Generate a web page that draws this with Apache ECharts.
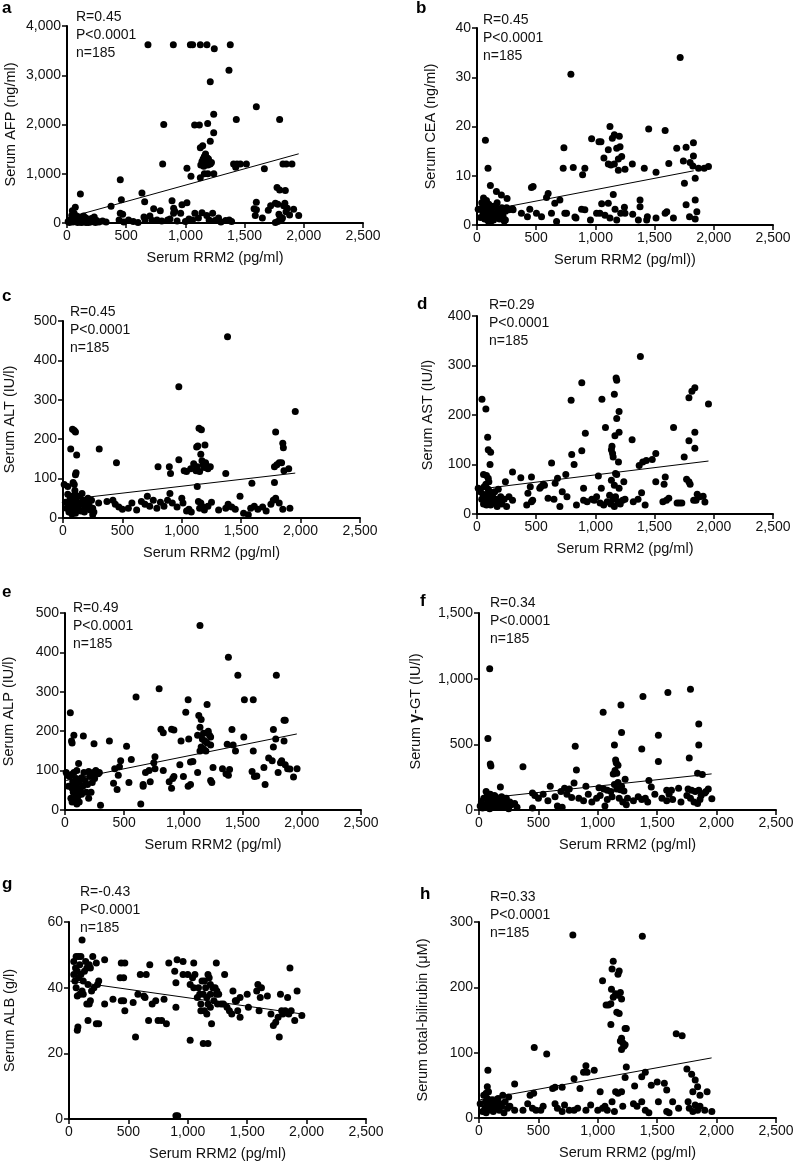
<!DOCTYPE html>
<html><head><meta charset="utf-8">
<script src="https://cdn.jsdelivr.net/npm/echarts@6/dist/echarts.min.js"></script>
<style>html,body{margin:0;padding:0;background:#fff}#main{width:797px;height:1173px}</style>
</head><body><div id="main"></div>
<script>
// ---------- DATA ----------
const xTickValues = [0, 500, 1000, 1500, 2000, 2500];
const xAxisTitles = ["Serum RRM2 (pg/ml)", "Serum RRM2 (pg/ml))", "Serum RRM2 (pg/ml)", "Serum RRM2 (pg/ml)", "Serum RRM2 (pg/ml)", "Serum RRM2 (pg/ml)", "Serum RRM2 (pg/ml)", "Serum RRM2 (pg/ml)"];
const yAxisTitles = ["Serum AFP (ng/ml)", "Serum CEA (ng/ml)", "Serum ALT (IU/l)", "Serum AST (IU/l)", "Serum ALP (IU/l)", "Serum γ-GT (IU/l)", "Serum ALB (g/l)", "Serum total-bilirubin (μM)"];
const panelLetters = ["a", "b", "c", "d", "e", "f", "g", "h"];
const rValues = ["R=0.45", "R=0.45", "R=0.45", "R=0.29", "R=0.49", "R=0.34", "R=-0.43", "R=0.33"];
const pValues = ["P<0.0001", "P<0.0001", "P<0.0001", "P<0.0001", "P<0.0001", "P<0.0001", "P<0.0001", "P<0.0001"];
const nValues = ["n=185", "n=185", "n=185", "n=185", "n=185", "n=185", "n=185", "n=185"];
const yMaxValues = [4000, 40, 500, 400, 500, 1500, 60, 300];
const yIntervals = [1000, 10, 100, 100, 100, 500, 20, 100];

const afpPoints = [[684,3620],[898,3620],[1042,3620],[1061,3620],[1126,3620],[1182,3620],[1379,3620],[1244,3540],[1368,3100],[1210,2870],[1239,2210],[1599,2360],[1430,2100],[1796,2100],[817,2000],[1078,1990],[1118,1990],[1188,2020],[1210,1660],[1239,1830],[1126,1530],[1146,1570],[808,1200],[1013,1110],[1047,950],[1126,920],[1130,1180],[1140,1250],[1150,1300],[1160,1350],[1170,1400],[1175,1280],[1180,1220],[1190,1180],[1200,1250],[1210,1200],[1145,1200],[1155,1150],[1165,1180],[1185,1320],[1195,1300],[1220,1230],[1160,1260],[1407,1200],[1436,1200],[1464,1200],[1515,1200],[1425,1130],[1667,1100],[1824,1200],[1852,1200],[1900,1200],[1160,1000],[1190,1000],[1240,1000],[450,880],[1774,720],[1796,670],[1844,660],[1599,420],[113,590],[633,610],[656,430],[459,470],[372,340],[887,450],[901,300],[971,370],[1013,410],[732,290],[788,250],[1580,290],[1600,270],[1590,150],[1650,100],[1700,260],[1720,350],[1760,400],[1780,380],[1790,180],[1800,120],[1810,60],[1820,100],[1830,350],[1840,400],[1850,230],[1860,300],[1880,160],[1914,280],[1957,150],[1780,30],[1760,10],[440,60],[450,200],[470,180],[480,20],[520,60],[560,30],[600,10],[650,120],[660,60],[700,140],[720,50],[760,60],[800,40],[850,60],[870,80],[900,200],[910,240],[930,40],[960,200],[1000,30],[1030,80],[1060,60],[1080,200],[1110,100],[1140,210],[1180,150],[1200,60],[1230,200],[1250,50],[1280,100],[1300,20],[1340,50],[1370,60],[1390,30],[10,30],[20,10],[30,60],[40,150],[45,250],[50,20],[55,80],[60,200],[70,320],[75,100],[80,50],[90,10],[100,120],[110,40],[120,80],[130,20],[140,140],[150,60],[160,100],[170,30],[180,10],[190,60],[200,20],[210,90],[220,40],[230,120],[240,10],[250,50],[270,20],[300,40],[330,20],[60,40],[80,140],[100,60],[120,10],[140,30],[160,10],[200,80],[230,60]];
const ceaPoints = [[71,17.2],[93,11.5],[113,8.0],[164,6.8],[206,6.1],[254,5.4],[460,7.6],[474,7.8],[587,5.6],[601,6.4],[657,4.4],[700,5.1],[742,2.4],[734,15.7],[728,11.5],[793,30.6],[813,11.7],[827,1.6],[892,10.2],[911,11.5],[883,3.2],[968,17.5],[1030,16.9],[1047,16.9],[1123,20.0],[1072,13.6],[1109,15.3],[1143,17.6],[1160,18.3],[1202,18.0],[1109,12.4],[1131,12.2],[1160,12.4],[1180,15.6],[1208,15.9],[1194,13.4],[1222,13.9],[1194,11.1],[1250,11.3],[1312,12.4],[1151,6.2],[1413,11.5],[1512,10.7],[1450,19.5],[1589,19.2],[1620,12.5],[1687,15.6],[1766,15.8],[1828,16.7],[1752,8.5],[1743,13.0],[1800,12.7],[1828,14.0],[1823,12.0],[1871,11.5],[1919,11.5],[1955,11.9],[1843,9.5],[1716,34.0],[1766,4.1],[1843,5.1],[1857,2.7],[1795,1.7],[1843,1.2],[1377,5.1],[1377,3.7],[1439,1.7],[1512,1.4],[1589,2.4],[1603,2.7],[1659,1.4],[1433,1.0],[1363,1.0],[1315,2.2],[1053,4.3],[1109,4.4],[1038,2.4],[1081,2.0],[1123,1.4],[1180,1.0],[1214,2.4],[1245,3.6],[1250,2.4],[1166,3.2],[1010,2.4],[958,1.0],[911,3.1],[836,1.4],[756,2.4],[672,0.7],[629,2.4],[545,1.7],[502,2.4],[446,3.2],[426,1.7],[375,2.4],[305,3.1],[10,3.2],[30,1.5],[40,4.5],[50,2.5],[55,5.5],[60,3.0],[65,1.2],[70,4.0],[75,2.2],[80,5.0],[85,3.5],[90,1.0],[95,2.8],[100,4.2],[105,1.8],[110,3.3],[120,0.8],[130,2.5],[140,3.8],[150,1.5],[160,2.2],[170,4.5],[180,3.0],[190,1.2],[200,2.5],[210,3.5],[220,1.8],[230,0.8],[240,2.8],[250,3.5],[60,2.0],[80,1.5],[100,0.6],[120,3.0],[140,1.0],[160,3.6],[200,1.4],[240,1.0],[50,3.8],[90,2.0],[270,3.1],[300,3.3]];
const altPoints = [[1385,460],[975,333],[1955,270],[80,225],[95,222],[105,218],[1145,228],[1165,224],[1790,218],[65,175],[305,175],[115,160],[110,115],[105,110],[450,140],[1125,180],[1135,183],[1195,185],[1850,190],[1855,178],[800,130],[895,130],[905,113],[975,148],[1020,120],[1040,118],[1075,125],[1100,138],[1120,120],[1130,130],[1150,118],[1160,162],[1170,145],[1180,135],[1190,128],[1200,140],[1210,132],[1220,125],[1240,130],[1370,113],[1780,130],[1800,135],[1820,140],[1840,140],[1860,120],[1900,125],[1130,80],[1590,88],[1780,90],[10,85],[40,80],[85,90],[95,85],[100,70],[20,40],[30,25],[40,60],[50,15],[55,35],[60,50],[65,20],[70,40],[75,10],[80,55],[85,30],[90,45],[95,20],[100,35],[105,12],[110,50],[115,28],[120,40],[130,22],[140,35],[150,18],[160,62],[170,45],[180,30],[190,25],[200,40],[210,50],[220,32],[230,20],[240,45],[250,8],[260,15],[250,25],[60,30],[80,15],[100,60],[140,55],[180,15],[220,42],[300,38],[370,42],[420,45],[440,35],[470,28],[500,22],[550,25],[580,38],[620,20],[660,42],[690,35],[710,55],[730,30],[760,45],[790,25],[820,40],[850,30],[880,45],[900,62],[920,38],[960,28],[1000,50],[1010,38],[1040,18],[1060,22],[1080,15],[1140,42],[1150,25],[1160,38],[1170,30],[1190,20],[1220,30],[1250,40],[1310,20],[1370,25],[1390,35],[1420,28],[1450,22],[1490,55],[1520,12],[1560,8],[1580,25],[1610,30],[1640,22],[1680,28],[1710,18],[1750,35],[1770,45],[1790,50],[1820,38],[1850,22],[1910,25]];
const astPoints = [[1380,318],[885,265],[1175,275],[1180,270],[1840,255],[1815,248],[1790,235],[1955,222],[42,232],[75,212],[795,230],[1055,232],[1160,242],[1200,207],[1180,193],[1085,175],[1660,175],[1840,165],[915,163],[1165,158],[1200,165],[1310,150],[1790,148],[90,155],[95,130],[115,125],[110,100],[1140,137],[1135,130],[1145,122],[1150,115],[885,128],[1840,133],[1750,115],[800,120],[820,100],[630,103],[1195,105],[1400,105],[1430,108],[1480,110],[1510,122],[1370,98],[1025,77],[1170,82],[1180,80],[750,80],[300,85],[370,73],[460,75],[540,55],[570,58],[660,62],[680,72],[1240,65],[1510,65],[1590,75],[1580,60],[1770,70],[1790,65],[1800,60],[55,80],[80,78],[95,72],[100,65],[1135,68],[1160,58],[1200,52],[1390,43],[1050,52],[900,52],[10,52],[30,45],[40,30],[50,40],[55,20],[60,55],[65,35],[70,25],[75,60],[80,18],[85,40],[90,30],[95,50],[100,22],[105,35],[110,45],[115,18],[120,28],[130,38],[140,22],[150,45],[160,30],[170,15],[180,50],[190,25],[200,35],[210,20],[230,30],[240,65],[250,15],[270,35],[300,28],[420,18],[430,42],[450,55],[460,25],[470,28],[530,52],[560,60],[600,32],[650,30],[700,15],[720,45],[760,35],[840,18],[900,28],[930,25],[970,30],[990,28],[1010,35],[1040,22],[1070,18],[1100,25],[1120,38],[1130,20],[1150,30],[1160,15],[1170,35],[1190,25],[1210,20],[1230,28],[1250,30],[1320,25],[1360,30],[1420,18],[1570,25],[1600,28],[1620,32],[1690,22],[1710,22],[1730,22],[1830,28],[1850,28],[1880,35],[1910,36],[1925,24],[1860,40]];
const alpPoints = [[1140,468],[1380,388],[1460,342],[1785,342],[795,308],[600,287],[1515,280],[1590,280],[1040,280],[1200,268],[1020,248],[1130,240],[45,247],[1150,230],[1850,228],[1860,228],[810,205],[830,196],[900,205],[920,203],[1410,204],[1760,204],[1140,210],[1170,195],[1210,200],[1220,190],[1230,185],[1510,185],[55,175],[60,170],[75,190],[155,188],[245,168],[375,175],[520,162],[1045,180],[1120,190],[1160,180],[1180,175],[1200,170],[1230,165],[1150,160],[1170,155],[1190,150],[1140,150],[1370,167],[1420,165],[1440,150],[1590,150],[1760,160],[1780,180],[1850,175],[980,175],[1080,123],[1060,122],[760,135],[750,120],[1330,105],[1360,92],[1380,88],[1390,103],[1580,98],[1600,85],[1620,86],[1680,108],[1690,65],[1720,132],[1750,125],[1800,95],[1820,120],[1830,125],[1860,115],[1880,105],[1900,104],[1930,84],[1960,105],[1250,108],[1240,70],[1230,75],[1060,65],[1040,60],[1000,85],[920,85],[910,80],[900,55],[880,72],[830,100],[760,105],[710,100],[680,95],[720,72],[660,60],[640,15],[660,65],[560,128],[540,70],[470,125],[460,110],[450,88],[440,52],[420,105],[410,68],[300,12],[290,95],[280,92],[260,100],[240,95],[1120,95],[970,115],[10,95],[20,88],[30,60],[40,85],[50,30],[55,90],[60,20],[65,72],[70,45],[75,95],[80,25],[85,65],[90,40],[95,80],[100,15],[105,55],[110,35],[115,118],[120,70],[130,50],[140,82],[150,60],[160,95],[170,75],[180,45],[190,65],[200,30],[210,85],[220,45],[230,70],[60,55],[80,50],[100,100],[120,20],[140,40],[200,98],[220,90],[250,80]];
const ggtPoints = [[90,1075],[1780,920],[1590,895],[1380,865],[1195,800],[1045,745],[1850,655],[1200,590],[1510,570],[75,545],[1140,495],[810,485],[1850,495],[1370,465],[1770,395],[1510,370],[95,350],[100,335],[370,330],[1150,380],[1155,360],[1170,340],[1145,300],[1160,280],[1130,275],[820,305],[1840,280],[1880,270],[1230,235],[1430,225],[800,205],[1170,210],[1140,195],[1200,180],[1450,175],[180,175],[600,180],[720,165],[760,160],[900,180],[1010,170],[1050,160],[1080,150],[1110,140],[1160,160],[1190,155],[1220,145],[1580,150],[1620,150],[1680,165],[1760,160],[1790,150],[1820,140],[1850,150],[1900,130],[1960,85],[1930,160],[450,130],[470,110],[500,90],[540,120],[580,70],[640,100],[660,30],[690,140],[700,20],[740,120],[780,95],[840,90],[880,70],[920,120],[950,60],[990,90],[1020,110],[1060,30],[1080,80],[1120,100],[1180,90],[1210,60],[1240,40],[1250,90],[1300,70],[1340,100],[1370,80],[1400,90],[1420,60],[1480,120],[1540,90],[1580,70],[1600,120],[1630,80],[1700,60],[1750,110],[1780,90],[1810,60],[1840,50],[1860,80],[1870,110],[1910,140],[10,30],[20,60],[30,15],[40,90],[50,40],[60,140],[65,20],[70,110],[75,60],[80,30],[85,80],[90,10],[95,120],[100,50],[110,90],[120,30],[130,70],[140,100],[150,40],[160,20],[170,80],[180,60],[190,100],[200,30],[210,60],[220,20],[230,90],[240,50],[250,10],[260,60],[270,40],[300,50],[320,20],[450,15],[100,20],[130,110],[210,90]];
const albPoints = [[900,1],[915,1],[110,54.5],[40,48],[60,49.5],[80,49.5],[100,49.5],[200,49.5],[300,48.5],[140,48],[180,46],[230,47.5],[440,47.5],[470,47.5],[680,47],[840,47.5],[890,45],[910,48.5],[960,48],[1050,47.5],[1240,47.5],[1860,46],[1000,44],[1040,43],[960,44],[1310,44],[600,44],[650,44],[430,43],[460,43],[1090,40],[1120,42],[1140,42],[1150,40],[1170,44],[1180,43],[1190,41],[1210,40],[1230,40],[1245,39],[1080,37],[1130,38],[1160,37],[1190,38],[1220,36],[1250,35],[1110,33],[1140,33],[1160,32],[1170,35],[1190,34],[1200,29],[1130,23],[1170,23],[1020,24],[560,25],[1770,25],[900,41.5],[900,34],[800,36.5],[780,30],[750,30],[820,29],[730,36],[700,35],[670,30],[630,37.5],[640,37],[580,38],[540,35.5],[460,36],[470,33],[440,36],[370,36.5],[300,35],[250,29],[230,29],[160,30],[150,35],[170,35],[180,36],[240,41],[250,42],[210,40],[190,39],[120,38],[110,39],[90,38],[70,37.5],[60,40],[50,42],[40,44],[55,46],[70,45],[80,43],[90,47],[100,44],[120,42],[130,45],[150,46],[160,41],[170,47],[70,27],[75,28],[1380,39],[1370,32],[1400,36],[1420,33],[1440,31],[1500,38],[1510,34],[1580,39],[1590,41],[1600,33],[1610,37],[1620,40],[1670,37.5],[1700,32],[1720,28.5],[1740,29.5],[1760,31],[1780,38],[1790,33],[1800,32],[1820,33],[1840,37],[1850,32],[1870,33],[1900,30],[1920,39],[1960,31.5],[1280,35],[1300,35],[1330,34],[1350,33],[1410,36],[1440,37],[1020,41],[1050,40],[1060,44],[1100,38],[1110,35],[1240,38],[1260,38]];
const tbilPoints = [[790,280],[1375,278],[1130,240],[1120,228],[1180,225],[1170,220],[1040,210],[1115,197],[1130,185],[1150,190],[1170,188],[1190,192],[1200,182],[1180,160],[1160,162],[1070,173],[1090,173],[1110,175],[1110,143],[1230,137],[1240,137],[1200,122],[1190,118],[1210,115],[1220,110],[1230,112],[1200,105],[1660,129],[1710,126],[465,108],[570,98],[1240,78],[1230,62],[1400,70],[1370,63],[1560,53],[1500,55],[1580,43],[1750,75],[1790,67],[1820,58],[1840,48],[1860,35],[1800,40],[1920,40],[900,80],[910,70],[970,73],[880,70],[800,60],[850,45],[700,47],[620,45],[640,47],[300,52],[460,38],[430,35],[75,73],[70,48],[60,38],[80,40],[1020,40],[1150,40],[1170,38],[1200,40],[1310,49],[1450,50],[10,22],[30,10],[40,35],[50,15],[55,25],[60,8],[65,20],[70,30],[80,12],[90,22],[100,18],[110,28],[120,10],[130,25],[140,15],[150,20],[160,30],[170,12],[180,22],[190,18],[200,35],[210,8],[220,25],[240,15],[250,32],[260,18],[300,12],[370,12],[410,22],[450,15],[480,12],[520,12],[540,18],[640,22],[660,15],[700,10],[720,20],[760,12],[800,12],[830,15],[900,12],[940,20],[1000,12],[1040,15],[1060,18],[1080,12],[1120,25],[1140,10],[1210,18],[1300,22],[1330,18],[1370,25],[1400,12],[1430,8],[1510,25],[1580,10],[1600,8],[1630,25],[1680,15],[1760,25],[1770,15],[1800,10],[1820,20],[1840,12],[1860,18],[1900,12],[1960,10]];

// regression line end points
const afpFit = [[10,110],[1957,1405]];
const ceaFit = [[10,2.6],[1830,11.0]];
const altFit = [[10,46],[1955,114]];
const astFit = [[10,50],[1955,107]];
const alpFit = [[10,75],[1958,193]];
const ggtFit = [[10,86],[1958,275]];
const albFit = [[10,42],[1960,32]];
const tbilFit = [[10,28],[1958,92]];

const pointSets = [afpPoints, ceaPoints, altPoints, astPoints, alpPoints, ggtPoints, albPoints, tbilPoints];
const fitSets = [afpFit, ceaFit, altFit, astFit, alpFit, ggtFit, albFit, tbilFit];

// ---------- LAYOUT ----------
const grids = [
  {left:67, top:26, width:296, height:197},
  {left:477, top:28, width:296, height:197},
  {left:63, top:321, width:297, height:197},
  {left:477, top:316, width:296, height:198},
  {left:64, top:613, width:297, height:197},
  {left:479, top:613, width:297, height:197},
  {left:69, top:922, width:297, height:197},
  {left:479, top:922, width:297, height:196}
];
const yNameGaps = [49, 39, 46, 42, 49, 55, 52, 49];
const letterPos = [[2,0],[416,0],[2,288],[417,296],[2,584],[420,593],[2,876],[420,886]];
const statPos = [[76,8],[483,11],[70,303],[489,296],[73,599],[490,594],[80,883],[490,888]];

const FONT = '"Liberation Sans", Arial, Helvetica, sans-serif';
const TXT = '#111';
const fmt = v => Number(v).toLocaleString('en-US');

const option = {
  backgroundColor: '#fff',
  animation: false,
  grid: grids.map(g => Object.assign({containLabel:false}, g)),
  xAxis: grids.map((g, i) => ({
    gridIndex: i, type: 'value', min: 0, max: 2500, interval: 500,
    name: xAxisTitles[i], nameLocation: 'middle', nameGap: 27,
    nameTextStyle: {fontFamily: FONT, fontSize: 14.5, color: TXT},
    axisLine: {lineStyle: {color: '#000', width: 2}},
    axisTick: {length: 5, lineStyle: {color: '#000', width: 1.5}},
    axisLabel: {fontFamily: FONT, fontSize: 14, color: TXT, margin: 6, formatter: fmt},
    splitLine: {show: false}
  })),
  yAxis: grids.map((g, i) => ({
    gridIndex: i, type: 'value', min: 0, max: yMaxValues[i], interval: yIntervals[i],
    name: i === 5 ? '{n|Serum }{g|γ}{n|-GT (IU/l)}' : yAxisTitles[i],
    nameLocation: 'middle', nameGap: yNameGaps[i], nameRotate: 90,
    nameTextStyle: {fontFamily: FONT, fontSize: 14.5, color: TXT,
      rich: {n: {fontFamily: FONT, fontSize: 14.5, color: TXT}, g: {fontFamily: FONT, fontSize: 16, fontWeight: 'bold', color: TXT}}},
    axisLine: {show: true, lineStyle: {color: '#000', width: 2}},
    axisTick: {show: true, length: 5, lineStyle: {color: '#000', width: 1.5}},
    axisLabel: {fontFamily: FONT, fontSize: 14, color: TXT, margin: 6, formatter: fmt},
    splitLine: {show: false}
  })),
  series: [],
  graphic: []
};

pointSets.forEach((pts, i) => {
  option.series.push({
    type: 'scatter', xAxisIndex: i, yAxisIndex: i, data: pts,
    symbol: 'circle', symbolSize: 7, itemStyle: {color: '#000', opacity: 1}, clip: false, z: 3
  });
  option.series.push({
    type: 'line', xAxisIndex: i, yAxisIndex: i, data: fitSets[i],
    symbol: 'none', lineStyle: {color: '#000', width: 1}, z: 4, silent: true
  });
  option.graphic.push({
    type: 'text', left: letterPos[i][0], top: letterPos[i][1],
    style: {text: panelLetters[i], font: 'bold 17px ' + FONT, fill: '#000'}
  });
  option.graphic.push({
    type: 'text', left: statPos[i][0], top: statPos[i][1],
    style: {text: rValues[i] + '\n' + pValues[i] + '\n' + nValues[i], font: '14px ' + FONT, fill: TXT, lineHeight: 18}
  });
});

const chart = echarts.init(document.getElementById('main'), null, {renderer: 'canvas'});
chart.setOption(option);
</script></body></html>
